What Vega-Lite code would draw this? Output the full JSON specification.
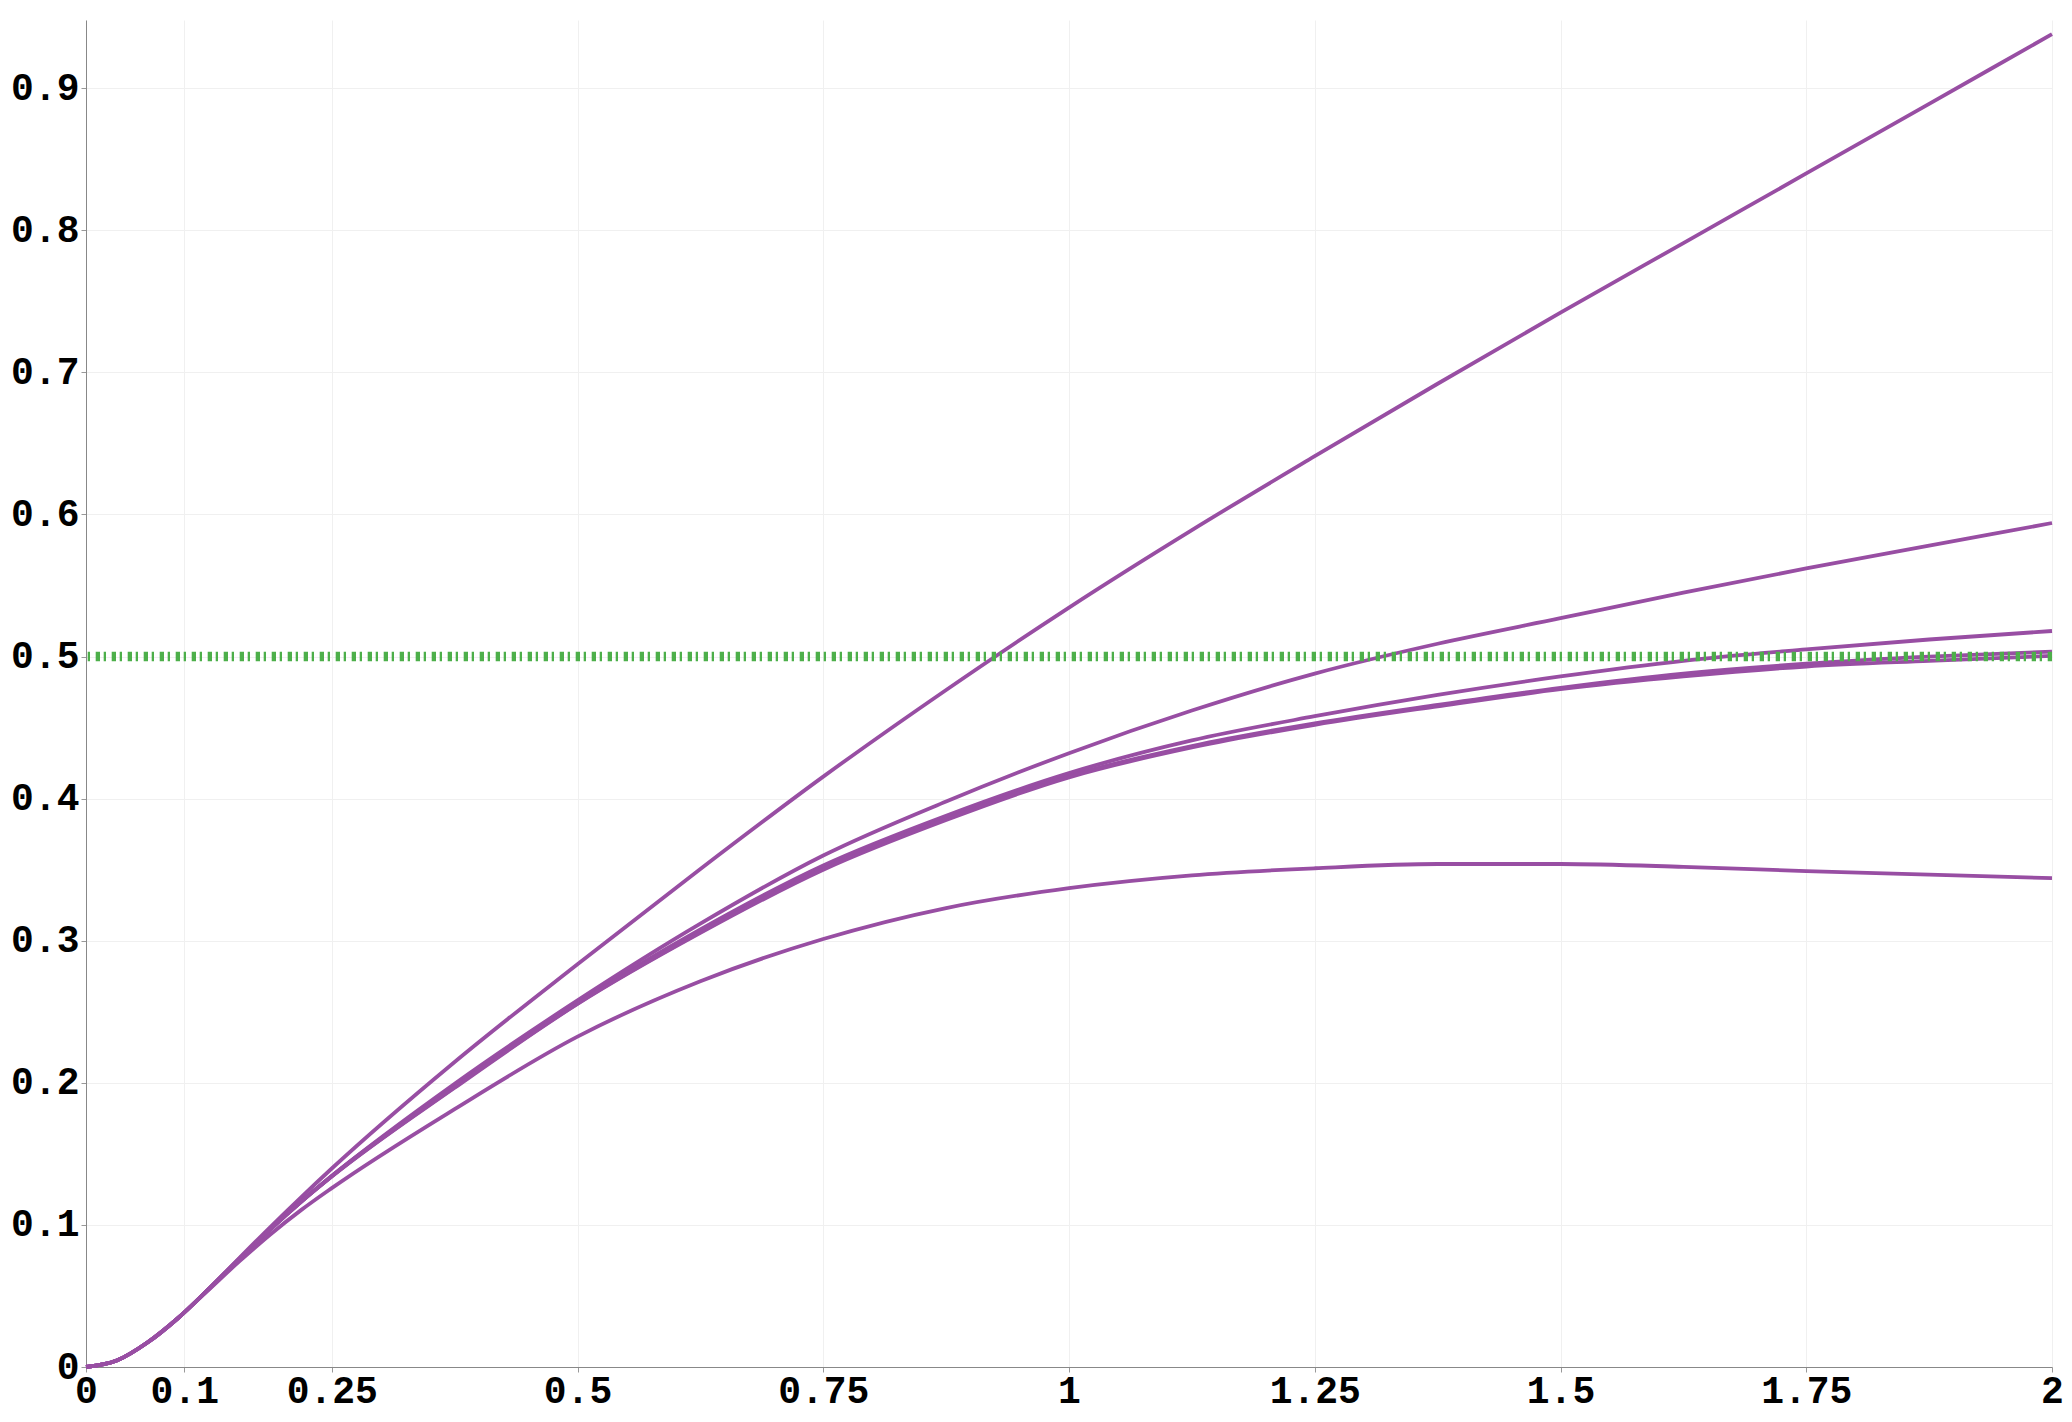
{
  "$schema": "https://vega.github.io/schema/vega-lite/v6.json",
  "width": 1966,
  "height": 1347,
  "autosize": {"type": "none"},
  "padding": {"left": 86, "top": 20, "right": 20, "bottom": 55},
  "background": "white",
  "config": {
    "view": {"stroke": null},
    "axis": {
      "title": null,
      "labelFont": "Liberation Mono",
      "labelFontWeight": "bold",
      "labelFontSize": 38,
      "labelColor": "#000000",
      "domainColor": "#888888",
      "tickColor": "#999999",
      "tickSize": 5,
      "gridColor": "#f0f0f0",
      "gridWidth": 1,
      "labelFlush": false,
      "labelOverlap": false,
      "labelExpr": "'' + datum.value"
    }
  },
  "datasets": {
    "curves": [
      {"s": "A", "x": 0, "y": 0}, {"s": "A", "x": 0.03125, "y": 0.0045}, {"s": "A", "x": 0.0625, "y": 0.0172}, {"s": "A", "x": 0.09375, "y": 0.0345}, {"s": "A", "x": 0.125, "y": 0.055}, {"s": "A", "x": 0.15625, "y": 0.0769}, {"s": "A", "x": 0.1875, "y": 0.0985}, {"s": "A", "x": 0.21875, "y": 0.1194}, {"s": "A", "x": 0.25, "y": 0.1397}, {"s": "A", "x": 0.375, "y": 0.2147}, {"s": "A", "x": 0.5, "y": 0.2835}, {"s": "A", "x": 0.625, "y": 0.3505}, {"s": "A", "x": 0.75, "y": 0.4155}, {"s": "A", "x": 0.875, "y": 0.4765}, {"s": "A", "x": 1.0, "y": 0.5345}, {"s": "A", "x": 1.125, "y": 0.589}, {"s": "A", "x": 1.25, "y": 0.641}, {"s": "A", "x": 1.375, "y": 0.692}, {"s": "A", "x": 1.5, "y": 0.742}, {"s": "A", "x": 1.625, "y": 0.791}, {"s": "A", "x": 1.75, "y": 0.84}, {"s": "A", "x": 1.875, "y": 0.889}, {"s": "A", "x": 2.0, "y": 0.938},

      {"s": "B", "x": 0, "y": 0}, {"s": "B", "x": 0.03125, "y": 0.0045}, {"s": "B", "x": 0.0625, "y": 0.0172}, {"s": "B", "x": 0.09375, "y": 0.0345}, {"s": "B", "x": 0.125, "y": 0.055}, {"s": "B", "x": 0.15625, "y": 0.0763}, {"s": "B", "x": 0.1875, "y": 0.0969}, {"s": "B", "x": 0.21875, "y": 0.1163}, {"s": "B", "x": 0.25, "y": 0.1344}, {"s": "B", "x": 0.375, "y": 0.1994}, {"s": "B", "x": 0.5, "y": 0.258}, {"s": "B", "x": 0.625, "y": 0.312}, {"s": "B", "x": 0.75, "y": 0.36}, {"s": "B", "x": 0.875, "y": 0.398}, {"s": "B", "x": 1.0, "y": 0.432}, {"s": "B", "x": 1.125, "y": 0.462}, {"s": "B", "x": 1.25, "y": 0.488}, {"s": "B", "x": 1.375, "y": 0.509}, {"s": "B", "x": 1.5, "y": 0.527}, {"s": "B", "x": 1.625, "y": 0.545}, {"s": "B", "x": 1.75, "y": 0.562}, {"s": "B", "x": 1.875, "y": 0.578}, {"s": "B", "x": 2.0, "y": 0.594},

      {"s": "C", "x": 0, "y": 0}, {"s": "C", "x": 0.03125, "y": 0.0045}, {"s": "C", "x": 0.0625, "y": 0.0172}, {"s": "C", "x": 0.09375, "y": 0.0345}, {"s": "C", "x": 0.125, "y": 0.055}, {"s": "C", "x": 0.15625, "y": 0.0763}, {"s": "C", "x": 0.1875, "y": 0.0969}, {"s": "C", "x": 0.21875, "y": 0.1163}, {"s": "C", "x": 0.25, "y": 0.1344}, {"s": "C", "x": 0.375, "y": 0.1975}, {"s": "C", "x": 0.5, "y": 0.2565}, {"s": "C", "x": 0.625, "y": 0.308}, {"s": "C", "x": 0.75, "y": 0.353}, {"s": "C", "x": 0.875, "y": 0.388}, {"s": "C", "x": 1.0, "y": 0.418}, {"s": "C", "x": 1.125, "y": 0.441}, {"s": "C", "x": 1.25, "y": 0.458}, {"s": "C", "x": 1.375, "y": 0.473}, {"s": "C", "x": 1.5, "y": 0.486}, {"s": "C", "x": 1.625, "y": 0.497}, {"s": "C", "x": 1.75, "y": 0.505}, {"s": "C", "x": 1.875, "y": 0.512}, {"s": "C", "x": 2.0, "y": 0.518},

      {"s": "D", "x": 0, "y": 0}, {"s": "D", "x": 0.03125, "y": 0.0045}, {"s": "D", "x": 0.0625, "y": 0.0172}, {"s": "D", "x": 0.09375, "y": 0.0345}, {"s": "D", "x": 0.125, "y": 0.055}, {"s": "D", "x": 0.15625, "y": 0.0763}, {"s": "D", "x": 0.1875, "y": 0.0969}, {"s": "D", "x": 0.21875, "y": 0.1163}, {"s": "D", "x": 0.25, "y": 0.1342}, {"s": "D", "x": 0.375, "y": 0.197}, {"s": "D", "x": 0.5, "y": 0.2558}, {"s": "D", "x": 0.625, "y": 0.306}, {"s": "D", "x": 0.75, "y": 0.351}, {"s": "D", "x": 0.875, "y": 0.386}, {"s": "D", "x": 1.0, "y": 0.416}, {"s": "D", "x": 1.125, "y": 0.437}, {"s": "D", "x": 1.25, "y": 0.453}, {"s": "D", "x": 1.375, "y": 0.466}, {"s": "D", "x": 1.5, "y": 0.478}, {"s": "D", "x": 1.625, "y": 0.488}, {"s": "D", "x": 1.75, "y": 0.495}, {"s": "D", "x": 1.875, "y": 0.5}, {"s": "D", "x": 2.0, "y": 0.5035},

      {"s": "E", "x": 0, "y": 0}, {"s": "E", "x": 0.03125, "y": 0.0045}, {"s": "E", "x": 0.0625, "y": 0.0172}, {"s": "E", "x": 0.09375, "y": 0.0345}, {"s": "E", "x": 0.125, "y": 0.055}, {"s": "E", "x": 0.15625, "y": 0.0763}, {"s": "E", "x": 0.1875, "y": 0.0969}, {"s": "E", "x": 0.21875, "y": 0.1162}, {"s": "E", "x": 0.25, "y": 0.134}, {"s": "E", "x": 0.375, "y": 0.1965}, {"s": "E", "x": 0.5, "y": 0.2555}, {"s": "E", "x": 0.625, "y": 0.3055}, {"s": "E", "x": 0.75, "y": 0.35}, {"s": "E", "x": 0.875, "y": 0.385}, {"s": "E", "x": 1.0, "y": 0.415}, {"s": "E", "x": 1.125, "y": 0.436}, {"s": "E", "x": 1.25, "y": 0.452}, {"s": "E", "x": 1.375, "y": 0.465}, {"s": "E", "x": 1.5, "y": 0.477}, {"s": "E", "x": 1.625, "y": 0.486}, {"s": "E", "x": 1.75, "y": 0.493}, {"s": "E", "x": 1.875, "y": 0.497}, {"s": "E", "x": 2.0, "y": 0.5005},

      {"s": "F", "x": 0, "y": 0}, {"s": "F", "x": 0.03125, "y": 0.0045}, {"s": "F", "x": 0.0625, "y": 0.0172}, {"s": "F", "x": 0.09375, "y": 0.0345}, {"s": "F", "x": 0.125, "y": 0.0545}, {"s": "F", "x": 0.15625, "y": 0.0745}, {"s": "F", "x": 0.1875, "y": 0.0933}, {"s": "F", "x": 0.21875, "y": 0.1104}, {"s": "F", "x": 0.25, "y": 0.1259}, {"s": "F", "x": 0.375, "y": 0.1815}, {"s": "F", "x": 0.5, "y": 0.2325}, {"s": "F", "x": 0.625, "y": 0.2715}, {"s": "F", "x": 0.75, "y": 0.3012}, {"s": "F", "x": 0.875, "y": 0.323}, {"s": "F", "x": 1.0, "y": 0.337}, {"s": "F", "x": 1.125, "y": 0.346}, {"s": "F", "x": 1.25, "y": 0.351}, {"s": "F", "x": 1.375, "y": 0.354}, {"s": "F", "x": 1.5, "y": 0.354}, {"s": "F", "x": 1.625, "y": 0.352}, {"s": "F", "x": 1.75, "y": 0.349}, {"s": "F", "x": 1.875, "y": 0.3465}, {"s": "F", "x": 2.0, "y": 0.344}
    ],
    "threshold": [{"y": 0.5}]
  },
  "layer": [
    {
      "data": {"name": "curves"},
      "mark": {"type": "line", "interpolate": "monotone", "color": "#984ea3", "strokeWidth": 3.8},
      "encoding": {
        "x": {
          "field": "x", "type": "quantitative",
          "scale": {"domain": [0, 2], "nice": false, "zero": false},
          "axis": {"values": [0, 0.1, 0.25, 0.5, 0.75, 1, 1.25, 1.5, 1.75, 2], "labelPadding": 0}
        },
        "y": {
          "field": "y", "type": "quantitative",
          "scale": {"domain": [0, 0.948], "nice": false},
          "axis": {"values": [0, 0.1, 0.2, 0.3, 0.4, 0.5, 0.6, 0.7, 0.8, 0.9], "labelPadding": 2}
        },
        "detail": {"field": "s"}
      }
    },
    {
      "data": {"name": "threshold"},
      "mark": {"type": "rule", "color": "#4daf4a", "strokeWidth": 9.5, "strokeDash": [4.3, 5.7, 2.3, 3.7]},
      "encoding": {
        "y": {"field": "y", "type": "quantitative"}
      }
    }
  ]
}
